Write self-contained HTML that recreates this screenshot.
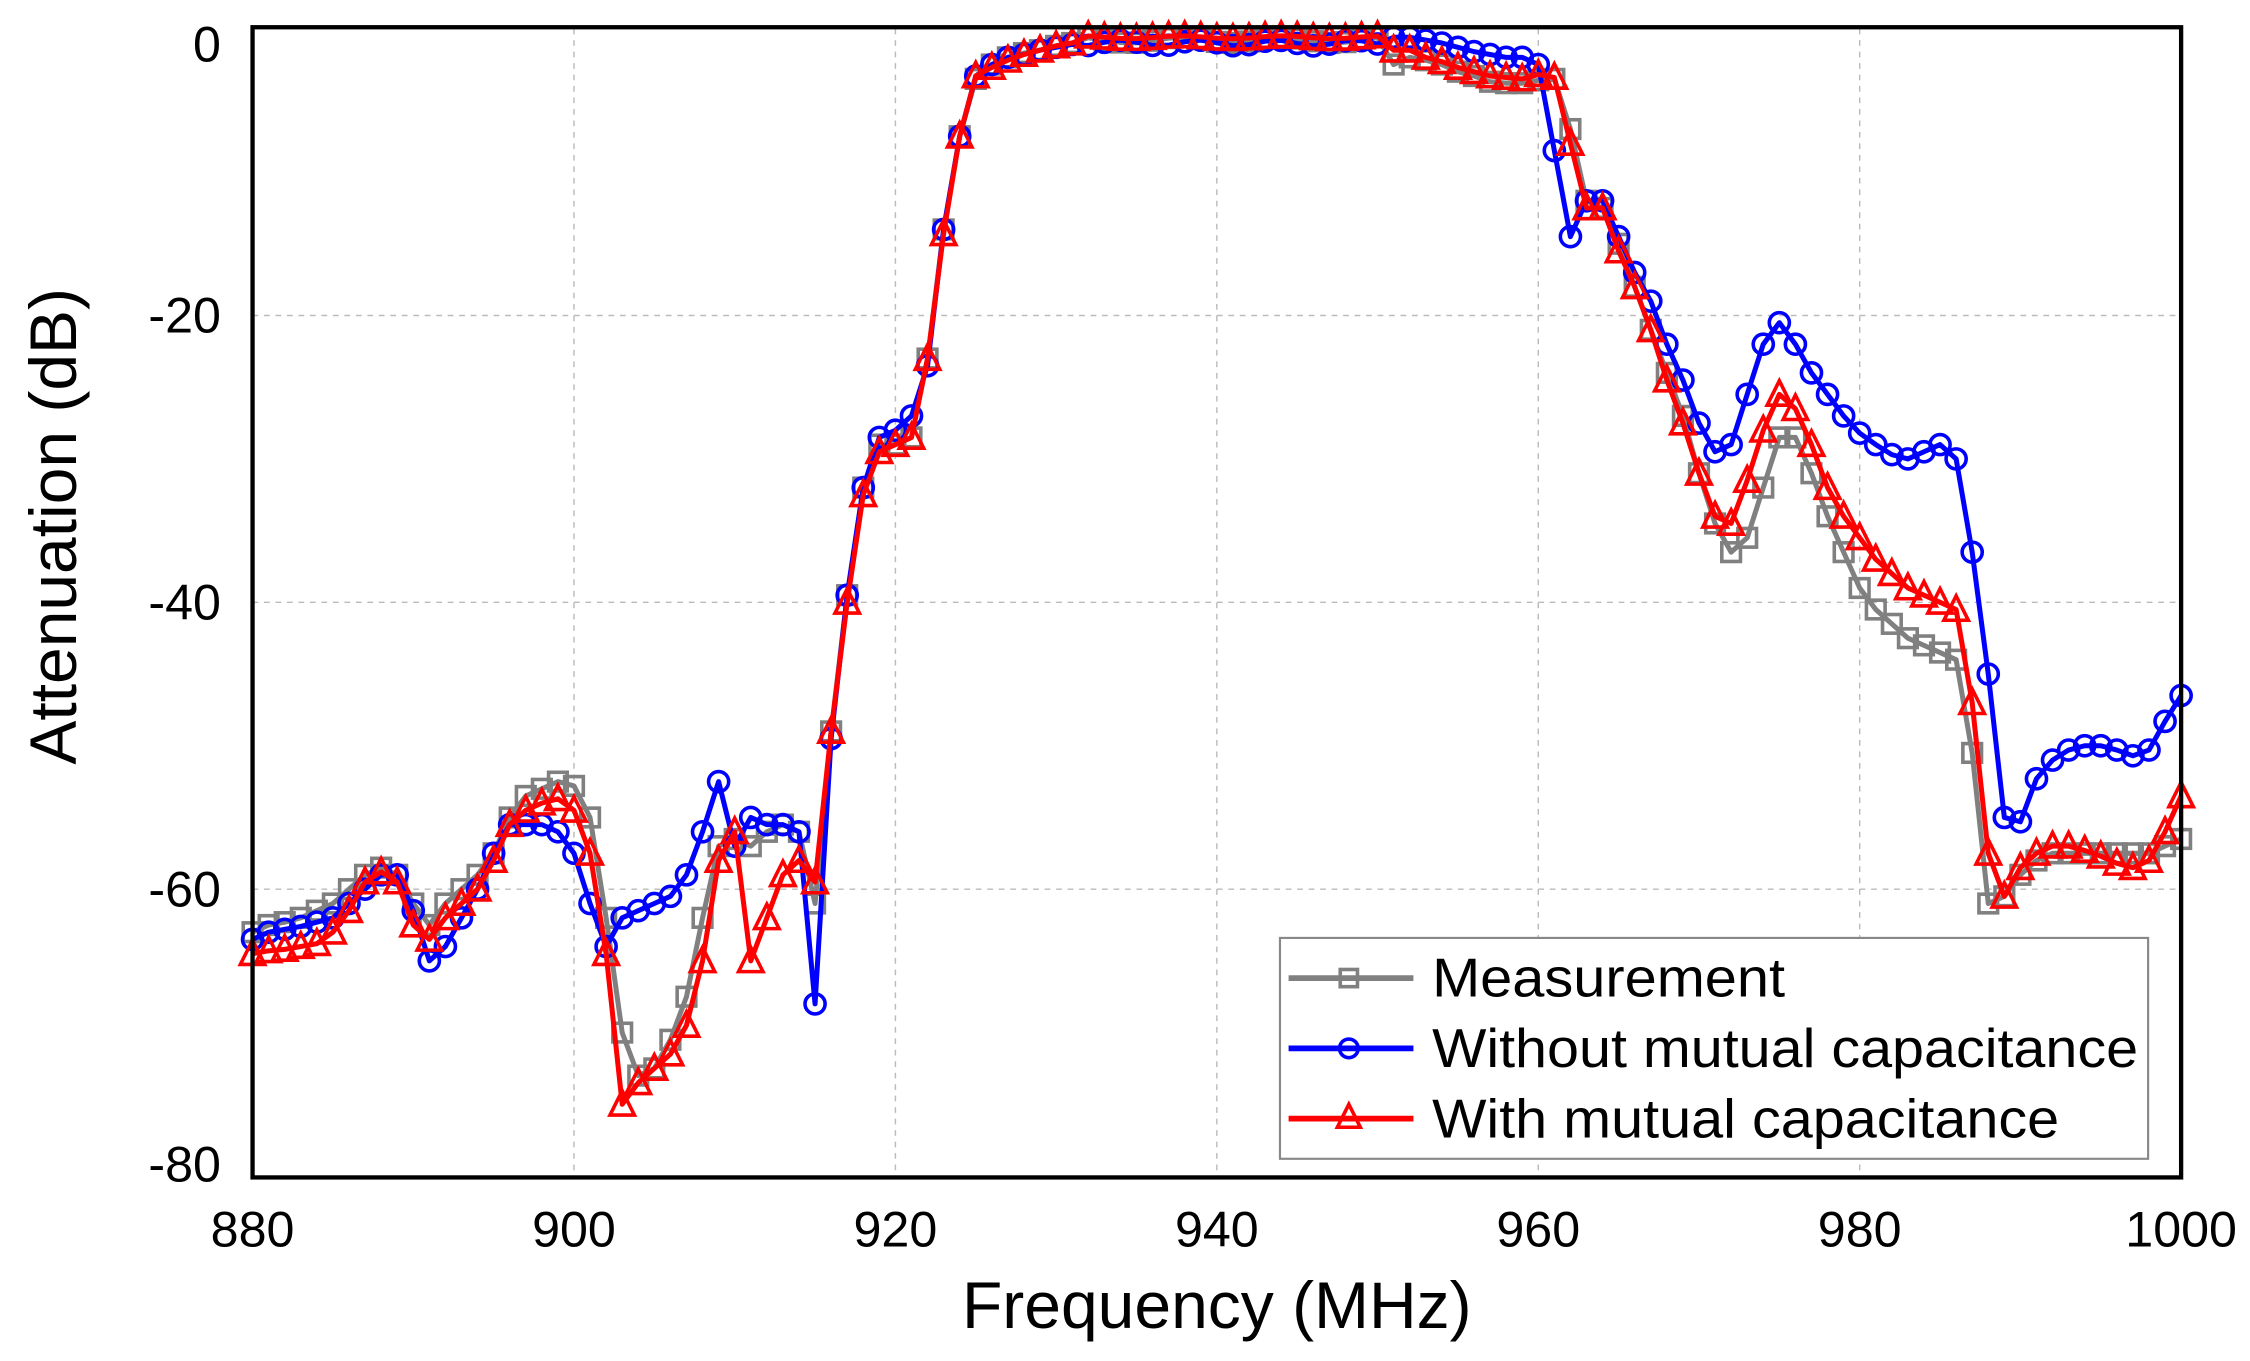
<!DOCTYPE html>
<html><head><meta charset="utf-8"><style>
html,body{margin:0;padding:0;background:#fff;}
svg{display:block;}
text{font-family:"Liberation Sans",Arial,sans-serif;}
</style></head><body>
<svg id="s" width="2250" height="1361" viewBox="0 0 1568 949" preserveAspectRatio="none" xmlns="http://www.w3.org/2000/svg">
<rect x="0" y="0" width="1568" height="949" fill="#fff"/>
<g id="grid" stroke="#bbb" stroke-width="1" stroke-dasharray="4,4">
<line x1="400" y1="20" x2="400" y2="820"/><line x1="624" y1="20" x2="624" y2="820"/>
<line x1="848" y1="20" x2="848" y2="820"/><line x1="1072" y1="20" x2="1072" y2="820"/>
<line x1="1296" y1="20" x2="1296" y2="820"/>
<line x1="176" y1="220" x2="1520" y2="220"/><line x1="176" y1="420" x2="1520" y2="420"/>
<line x1="176" y1="620" x2="1520" y2="620"/>
</g>
<g id="series"></g>
<rect x="176" y="19" width="1344" height="802" fill="none" stroke="#000" stroke-width="3"/>
<g font-size="35" fill="#000" text-anchor="end">
<text x="154" y="43">0</text><text x="154" y="232">-20</text><text x="154" y="432">-40</text>
<text x="154" y="632">-60</text><text x="154" y="824">-80</text>
</g>
<g font-size="35" fill="#000" text-anchor="middle">
<text x="176" y="869">880</text><text x="400" y="869">900</text><text x="624" y="869">920</text>
<text x="848" y="869">940</text><text x="1072" y="869">960</text><text x="1296" y="869">980</text>
<text x="1520" y="869">1000</text>
</g>
<text x="848" y="926" font-size="46" text-anchor="middle">Frequency (MHz)</text>
<text transform="translate(53,367) rotate(-90)" font-size="46" text-anchor="middle">Attenuation (dB)</text>
<g>
<rect x="892" y="654" width="605" height="154" fill="#fff" stroke="#888" stroke-width="1.5"/>
<line x1="898" y1="682" x2="985" y2="682" stroke="#808080" stroke-width="4"/>
<rect x="934" y="676" width="12" height="12" fill="none" stroke="#808080" stroke-width="2.5"/>
<line x1="898" y1="731" x2="985" y2="731" stroke="#0000ff" stroke-width="4"/>
<circle cx="940" cy="731" r="6.5" fill="none" stroke="#0000ff" stroke-width="2.5"/>
<line x1="898" y1="780" x2="985" y2="780" stroke="#ff0000" stroke-width="4"/>
<path d="M940 770 L948 786 L932 786 Z" fill="none" stroke="#ff0000" stroke-width="2.5"/>
<g font-size="38" fill="#000">
<text x="998" y="695" textLength="246" lengthAdjust="spacingAndGlyphs">Measurement</text>
<text x="998" y="744" textLength="492" lengthAdjust="spacingAndGlyphs">Without mutual capacitance</text>
<text x="998" y="793" textLength="437" lengthAdjust="spacingAndGlyphs">With mutual capacitance</text>
</g>
</g>
</svg>
<script>
var G=[-63,-62.5,-62.3,-62,-61.5,-61,-60,-59,-58.5,-59,-61,-62.5,-61,-60,-59,-57.5,-55,-53.5,-53,-52.5,-52.8,-55,-62,-70,-73,-72.5,-70.5,-67.5,-62,-57,-56.5,-57,-56,-55.5,-56,-61,-49,-39.5,-32,-29,-29,-28.5,-23,-14,-7.5,-3.5,-2.5,-2,-1.7,-1.5,-1.2,-1];
var B=[-63.5,-63,-62.8,-62.6,-62.3,-62,-61,-60,-59,-59,-61.5,-65,-64,-62,-60,-57.5,-55.5,-55.5,-55.5,-56,-57.5,-61,-64,-62,-61.5,-61,-60.5,-59,-56,-52.5,-57,-55,-55.5,-55.5,-56,-68,-49.5,-39.5,-32,-28.5,-28,-27,-23.5,-14,-7.5,-3.3,-2.5,-2,-1.8,-1.5,-1.3,-1.1];
var R=[-64.5,-64.3,-64.2,-64,-63.8,-63,-61.5,-59.5,-58.8,-59.5,-62.5,-63.5,-62,-61,-60,-58,-55.5,-54.5,-54,-53.7,-54.5,-57.5,-64.5,-75,-73.5,-72.5,-71.5,-69.5,-65,-58,-56,-65,-62,-59,-58,-59.5,-49,-40,-32.5,-29.5,-29,-28.5,-23,-14.3,-7.5,-3.3,-2.7,-2.2,-1.8,-1.5,-1.2,-1];
for(var f=932;f<=950;f++){G[f-880]=-0.8+0.2*Math.sin(f);B[f-880]=-1.0+0.2*Math.sin(f*1.3);R[f-880]=-0.6+0.1*Math.sin(f);}
var G2=[-2.5,-2,-2.2,-2.5,-3,-3.3,-3.7,-3.8,-3.8,-3.6,-3.5,-7,-12,-12.5,-15,-18,-21,-24,-27,-31,-34.5,-36.5,-35.5,-32,-28.5,-28.5,-31,-34,-36.5,-39,-40.5,-41.5,-42.5,-43,-43.5,-44,-50.5,-61,-60.5,-59,-58,-57.5,-57.5,-57.5,-57.5,-57.5,-57.5,-57.5,-57,-56.5];
var B2=[-0.6,-0.6,-0.8,-1,-1.3,-1.6,-1.8,-2,-2,-2.5,-8.5,-14.5,-12,-12,-14.5,-17,-19,-22,-24.5,-27.5,-29.5,-29,-25.5,-22,-20.5,-22,-24,-25.5,-27,-28.2,-29,-29.7,-30,-29.5,-29,-30,-36.5,-45,-55,-55.3,-52.3,-51,-50.3,-50,-50,-50.3,-50.7,-50.3,-48.3,-46.5];
var R2=[-1.5,-1.5,-2,-2.3,-2.7,-3,-3.3,-3.4,-3.5,-3.2,-3.4,-8,-12.5,-12.5,-15.5,-18,-21,-24.5,-27.5,-31,-34,-34.5,-31.5,-28,-25.5,-26.5,-29,-32,-34,-35.5,-37,-38,-39,-39.5,-40,-40.5,-47,-57.5,-60.5,-58.5,-57.5,-57,-57,-57.3,-57.7,-58.2,-58.5,-58,-56,-53.5];
for(var i=0;i<50;i++){G[71+i]=G2[i];B[71+i]=B2[i];R[71+i]=R2[i];}
function X(f){return 176+11.2*(f-880);} function Y(d){return 20-10*d;}
var out='';
function series(a,col,mk){
 var pts=a.map(function(v,i){return X(880+i).toFixed(1)+','+Y(v).toFixed(1);}).join(' ');
 out+='<polyline points="'+pts+'" fill="none" stroke="'+col+'" stroke-width="3.5" stroke-linejoin="round"/>';
 a.forEach(function(v,i){var x=X(880+i),y=Y(v);
  if(mk=='s')out+='<rect x="'+(x-6.5)+'" y="'+(y-6.5)+'" width="13" height="13" fill="none" stroke="'+col+'" stroke-width="2.5"/>';
  else if(mk=='c')out+='<circle cx="'+x+'" cy="'+y+'" r="7" fill="none" stroke="'+col+'" stroke-width="2.5"/>';
  else out+='<path d="M'+x+' '+(y-9.5)+' L'+(x+8.5)+' '+(y+7.5)+' L'+(x-8.5)+' '+(y+7.5)+' Z" fill="none" stroke="'+col+'" stroke-width="2.5"/>';
 });
}
series(G,'#808080','s');series(B,'#0000ff','c');series(R,'#ff0000','t');
document.getElementById('series').innerHTML=out;
</script>
</body></html>
